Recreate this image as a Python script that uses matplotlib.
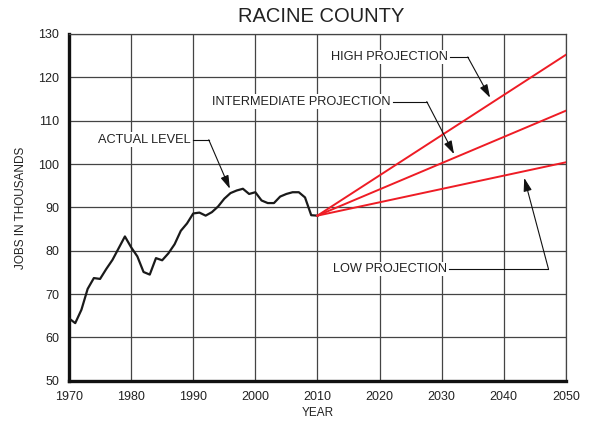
import numpy as np
import matplotlib
matplotlib.use("Agg")
import matplotlib.pyplot as plt

plt.rcParams["font.family"] = ["Liberation Sans", "DejaVu Sans"]

# actual employment, thousands of jobs
years = list(range(1970, 2011))
jobs = [64.4, 63.3, 66.4, 71.2, 73.7, 73.5, 75.8, 77.9, 80.6, 83.3,
        80.8, 78.7, 75.1, 74.5, 78.3, 77.8, 79.4, 81.5, 84.6, 86.3,
        88.6, 88.8, 88.1, 88.9, 90.2, 92.0, 93.3, 93.9, 94.3, 93.1,
        93.5, 91.6, 91.0, 91.0, 92.5, 93.1, 93.5, 93.5, 92.3, 88.2,
        88.1]

# projections 2010 -> 2050
proj_years = [2010, 2050]
high_proj = [88.1, 125.2]
mid_proj = [88.1, 112.3]
low_proj = [88.1, 100.4]

fig = plt.figure(figsize=(5.95, 4.25), dpi=100)
ax = fig.add_axes([0.116, 0.104, 0.835, 0.816])

ax.plot(years, jobs, color="#1a1a1a", lw=1.6, zorder=3)
for vals in (high_proj, mid_proj, low_proj):
    ax.plot(proj_years, vals, color="#ee1c25", lw=1.4, zorder=3)

ax.set_xlim(1970, 2050)
ax.set_ylim(50, 130)
ax.set_xticks(np.arange(1970, 2051, 10))
ax.set_yticks(np.arange(50, 131, 10))
ax.grid(True, color="#444444", lw=0.9)
ax.set_axisbelow(True)
ax.tick_params(length=0, labelsize=9, colors="#222222")
ax.tick_params(axis="x", pad=7)
ax.tick_params(axis="y", pad=7)
for s in ("left", "bottom"):
    ax.spines[s].set_linewidth(2.4)
    ax.spines[s].set_color("#111111")
for s in ("top", "right"):
    ax.spines[s].set_linewidth(0.9)
    ax.spines[s].set_color("#444444")

ax.set_title("RACINE COUNTY", fontsize=14.5, pad=9, color="#222222", x=0.508)
ax.set_xlabel("YEAR", fontsize=8.5, labelpad=3, color="#222222")
ax.set_ylabel("JOBS IN THOUSANDS", fontsize=8.5, labelpad=8, color="#222222")

def callout(text, text_end, corner, tip):
    ax.text(text_end[0], text_end[1], text, ha="right", va="center",
            fontsize=9.2, color="#222222",
            bbox=dict(facecolor="white", edgecolor="none", pad=1.0), zorder=4)
    ax.plot([text_end[0] + 0.4, corner[0]], [text_end[1], corner[1]],
            color="#111111", lw=0.8, zorder=4)
    ax.annotate("", xy=tip, xytext=corner,
                arrowprops=dict(arrowstyle="-|>,head_length=0.8,head_width=0.25",
                                color="#111111", lw=0.8, shrinkA=0, shrinkB=0),
                zorder=4)

callout("ACTUAL LEVEL", (1989.6, 105.6), (1992.5, 105.6), (1995.9, 94.3))
callout("HIGH PROJECTION", (2031.0, 124.7), (2034.2, 124.7), (2037.8, 115.3))
callout("INTERMEDIATE PROJECTION", (2021.8, 114.4), (2027.6, 114.4), (2032.0, 102.3))
callout("LOW PROJECTION", (2030.8, 75.8), (2047.2, 75.8), (2043.3, 96.8))

fig.savefig("out.png", dpi=100)
